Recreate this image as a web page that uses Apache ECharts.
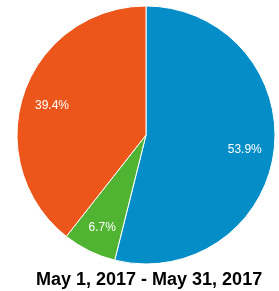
<!DOCTYPE html>
<html>
<head>
<meta charset="utf-8">
<script src="https://cdn.jsdelivr.net/npm/echarts@6/dist/echarts.min.js"></script>
<style>
html, body { margin: 0; padding: 0; background: #fff; }
#chart { width: 279px; height: 291px; }
</style>
</head>
<body>
<div id="chart"></div>
<script>
/*#################  share by segment  #################*/
var names = ['A', 'B', 'C'];
var values = [53.9, 6.7, 39.4];
var colors = ['#058DC7', '#50B432', '#ED561B'];
var titleText = 'May 1, 2017 - May 31, 2017';

var slices = [];
var labelSlices = [];
for (var i = 0; i < values.length; i++) {
    slices.push({ value: values[i], name: names[i], itemStyle: { color: colors[i] } });
    labelSlices.push({ value: values[i], name: names[i] });
}

var dom = document.getElementById('chart');
var myChart = echarts.init(dom, null, { renderer: 'canvas' });
var option = {
    animation: false,
    title: {
        text: titleText,
        left: 36,
        top: 271,
        padding: 0,
        textStyle: {
            fontFamily: 'Liberation Sans, Arial, sans-serif',
            fontSize: 18,
            fontWeight: 'bold',
            color: '#000'
        }
    },
    series: [
        {
            type: 'pie',
            center: [146, 135],
            radius: [0, 129],
            startAngle: 90,
            clockwise: true,
            silent: true,
            label: { show: false },
            labelLine: { show: false },
            itemStyle: { borderColor: '#fff', borderWidth: 1 },
            data: slices
        },
        {
            // transparent ring, only carries the labels at ~3/4 radius
            type: 'pie',
            center: [146, 138],
            radius: [64, 129],
            startAngle: 90,
            clockwise: true,
            silent: true,
            itemStyle: { color: 'rgba(0,0,0,0)' },
            label: {
                show: true,
                position: 'inside',
                formatter: function (p) { return p.value.toFixed(1) + '%'; },
                color: '#fff',
                fontFamily: 'Liberation Sans, Arial, sans-serif',
                fontSize: 12,
                textBorderWidth: 0
            },
            labelLine: { show: false },
            data: labelSlices
        }
    ]
};
myChart.setOption(option);
</script>
</body>
</html>
